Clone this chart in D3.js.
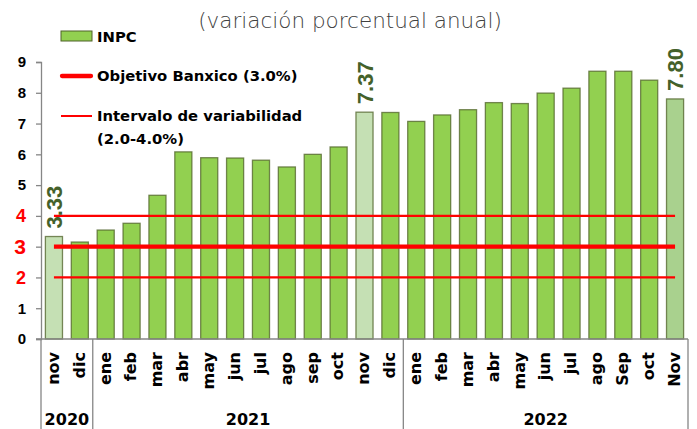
<!DOCTYPE html>
<html>
<head>
<meta charset="utf-8">
<script src="https://cdn.jsdelivr.net/npm/d3@7"></script>
<style>
  body { margin: 0; background: #fff; }
  svg { display: block; }
</style>
</head>
<body>
<div id="chart"></div>
<script>
// monthly labels, nov 2020 .. Nov 2022
var months = ["nov", "dic",
    "ene", "feb", "mar", "abr", "may", "jun", "jul", "ago", "sep", "oct", "nov", "dic",
    "ene", "feb", "mar", "abr", "may", "jun", "jul", "ago", "Sep", "oct", "Nov"];
var inpc = [3.33, 3.15,
    3.54, 3.76, 4.67, 6.08, 5.89, 5.88, 5.81, 5.59, 6.00, 6.24, 7.37, 7.36,
    7.07, 7.28, 7.45, 7.68, 7.65, 7.99, 8.15, 8.70, 8.70, 8.41, 7.80];
var years = ["2020", "2021", "2022"];
var yearCounts = [2, 12, 11];
var highlighted = [0, 12, 24];
var target = 3.0;
var band = [2.0, 4.0];
var yTicks = [0, 1, 2, 3, 4, 5, 6, 7, 8, 9];

function start(){
    var width = 697, height = 429;
    var margin = {top: 62, left: 41, right: 9, bottom: 90};
    var bottomY = height - margin.bottom;

    var svg = d3.select("#chart").append("svg")
        .attr("width", width)
        .attr("height", height);

    var keys = months.map(function(m, i){ return i; });

    var xScale = d3.scaleBand()
        .domain(keys)
        .range([margin.left, width - margin.right])
        .paddingInner(0.34)
        .paddingOuter(0.17);

    var yScale = d3.scaleLinear()
        .domain([0, 9])
        .range([bottomY, margin.top]);

    // title
    svg.append("text")
        .attr("x", 350)
        .attr("y", 28)
        .attr("text-anchor", "middle")
        .style("font-family", "'DejaVu Sans', sans-serif")
        .style("font-size", "21.5px")
        .style("font-weight", "300")
        .style("fill", "#404040")
        .text("(variación porcentual anual)");

    // y axis
    var yAxis = svg.append("g")
        .attr("transform", "translate(" + margin.left + ",0)")
        .call(d3.axisLeft(yScale).tickValues(yTicks).tickSize(5).tickPadding(10).tickFormat(d3.format("d")));
    yAxis.select(".domain").attr("stroke", "#868686").attr("stroke-width", 1.3);
    yAxis.selectAll(".tick line").attr("stroke", "#868686").attr("stroke-width", 1.3);
    yAxis.selectAll(".tick text")
        .style("font-family", "'Liberation Sans', Arial, sans-serif")
        .style("font-weight", "bold")
        .style("font-size", function(d){
            if (d == 3) return "21px";
            if (d == 2 || d == 4) return "18px";
            return "15px";
        })
        .style("fill", function(d){
            return (d >= 2 && d <= 4) ? "#FF0000" : "#000";
        });

    // bars
    svg.selectAll("rect.bar")
        .data(inpc)
        .enter()
        .append("rect")
        .attr("class", "bar")
        .attr("x", function(d, i){ return xScale(i); })
        .attr("y", function(d){ return yScale(d); })
        .attr("width", xScale.bandwidth())
        .attr("height", function(d){ return bottomY - yScale(d); })
        .attr("fill", function(d, i){
            if (i == 24) return "#A9D18E";
            if (highlighted.indexOf(i) >= 0) return "#C5E0B4";
            return "#92D050";
        })
        .attr("stroke", "#4F6228")
        .attr("stroke-opacity", 0.75)
        .attr("stroke-width", 1.3);

    // target and band lines
    var x0 = xScale(0) + xScale.bandwidth() / 2;
    var x1 = xScale(keys.length - 1) + xScale.bandwidth() / 2;
    band.forEach(function(v){
        svg.append("line")
            .attr("x1", x0).attr("x2", x1)
            .attr("y1", yScale(v)).attr("y2", yScale(v))
            .attr("stroke", "#FF0000")
            .attr("stroke-width", 2.3);
    });
    svg.append("line")
        .attr("x1", x0).attr("x2", x1)
        .attr("y1", yScale(target)).attr("y2", yScale(target))
        .attr("stroke", "#FF0000")
        .attr("stroke-width", 4.3);

    // value labels for highlighted months
    highlighted.forEach(function(i){
        var cx = xScale(i) + xScale.bandwidth() / 2;
        var y0 = yScale(inpc[i]) - 8;
        svg.append("text")
            .attr("transform", "translate(" + cx + "," + y0 + ") rotate(-90)")
            .attr("dy", "0.37em")
            .attr("text-anchor", "start")
            .style("font-family", "'Liberation Sans', Arial, sans-serif")
            .style("font-weight", "bold")
            .style("font-size", "22px")
            .style("fill", "#44612A")
            .text(inpc[i].toFixed(2));
    });

    // x axis line
    svg.append("line")
        .attr("x1", margin.left - 5).attr("x2", width - margin.right)
        .attr("y1", bottomY).attr("y2", bottomY)
        .attr("stroke", "#868686")
        .attr("stroke-width", 1.3);

    // month labels
    svg.selectAll("text.month")
        .data(months)
        .enter()
        .append("text")
        .attr("class", "month")
        .attr("transform", function(d, i){
            return "translate(" + (xScale(i) + xScale.bandwidth() / 2) + "," + (bottomY + 13) + ") rotate(-90)";
        })
        .attr("dy", "0.3em")
        .attr("text-anchor", "end")
        .style("font-family", "'DejaVu Sans', sans-serif")
        .style("font-weight", "bold")
        .style("font-size", "16px")
        .style("fill", "#000")
        .text(function(d){ return d; });

    // year groups
    var step = xScale.step();
    var edge = margin.left;
    var seps = [edge];
    years.forEach(function(y, k){
        var w = yearCounts[k] * step;
        svg.append("text")
            .attr("x", edge + w / 2)
            .attr("y", 425)
            .attr("text-anchor", "middle")
            .style("font-family", "'DejaVu Sans', sans-serif")
            .style("font-weight", "bold")
            .style("font-size", "16px")
            .style("fill", "#000")
            .text(y);
        edge += w;
        seps.push(edge);
    });
    svg.selectAll("line.sep")
        .data(seps)
        .enter()
        .append("line")
        .attr("class", "sep")
        .attr("x1", function(d){ return d; })
        .attr("x2", function(d){ return d; })
        .attr("y1", bottomY)
        .attr("y2", height)
        .attr("stroke", "#868686")
        .attr("stroke-width", 1.3);

    // legend
    var legend = svg.append("g");
    var legFont = function(sel){
        sel.style("font-family", "'DejaVu Sans', sans-serif")
           .style("font-weight", "bold")
           .style("font-size", "14.8px")
           .style("fill", "#000");
    };
    legend.append("rect")
        .attr("x", 61).attr("y", 31)
        .attr("width", 31).attr("height", 10)
        .attr("fill", "#92D050")
        .attr("stroke", "#4F6228")
        .attr("stroke-width", 1);
    legend.append("text").attr("x", 97).attr("y", 42).text("INPC").call(legFont);

    legend.append("line")
        .attr("x1", 62).attr("x2", 91)
        .attr("y1", 76).attr("y2", 76)
        .attr("stroke", "#FF0000")
        .attr("stroke-width", 4.3)
        .attr("stroke-linecap", "round");
    legend.append("text").attr("x", 97).attr("y", 81).text("Objetivo Banxico (3.0%)").call(legFont);

    legend.append("line")
        .attr("x1", 61).attr("x2", 92)
        .attr("y1", 116).attr("y2", 116)
        .attr("stroke", "#FF0000")
        .attr("stroke-width", 2);
    legend.append("text").attr("x", 97).attr("y", 121).text("Intervalo de variabilidad").call(legFont);
    legend.append("text").attr("x", 97).attr("y", 144).text("(2.0-4.0%)").call(legFont);
}

start();
</script>
</body>
</html>
